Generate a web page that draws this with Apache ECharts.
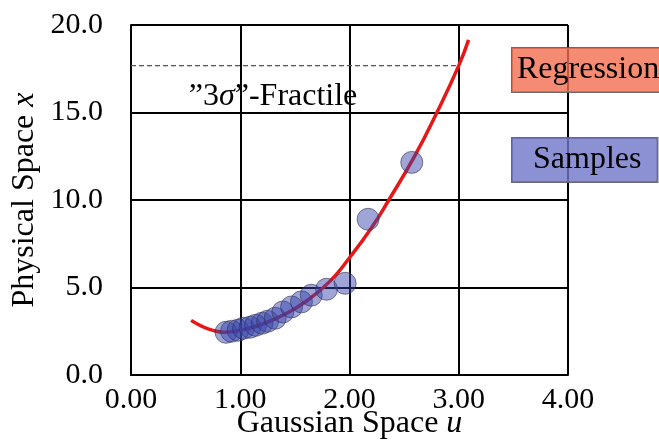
<!DOCTYPE html>
<html>
<head>
<meta charset="UTF-8">
<title>Regression in Gaussian space</title>
<script src="https://cdn.jsdelivr.net/npm/echarts@6/dist/echarts.min.js"></script>
<style>
	html, body { margin: 0; padding: 0; background: #fff; }
</style>
</head>
<body>
	<div id='chartContainer' style='width: 659px; height: 440px;'></div>
	<script>
	// samples (u, x)
	var sampleU = [0.87, 0.92, 0.98, 1.03, 1.09, 1.14, 1.20, 1.25, 1.32, 1.39, 1.47, 1.56, 1.65, 1.79, 1.96, 2.17, 2.57];
	var sampleX = [2.44, 2.50, 2.56, 2.67, 2.73, 2.84, 2.96, 3.07, 3.24, 3.60, 3.89, 4.18, 4.56, 4.90, 5.24, 8.90, 12.15];
	// regression curve
	var curveU = [0.55, 0.65, 0.75, 0.85, 1.00, 1.20, 1.40, 1.60, 1.82, 2.00, 2.20, 2.36, 2.60, 2.80, 3.00, 3.09];
	var curveX = [3.12, 2.78, 2.55, 2.45, 2.55, 2.90, 3.45, 4.20, 5.35, 6.70, 8.40, 10.00, 12.55, 15.00, 17.68, 19.15];
	// "3 sigma" fractile level
	var fractileU = [0, 3.0];
	var fractileX = 17.68;
	var xTicks = [0, 1, 2, 3, 4];
	var yTicks = [0, 5, 10, 15, 20];

	var font = "'Liberation Serif', 'DejaVu Serif', serif";

	function pairs(a, b){
		var out = [];
		for (var i=0; i<a.length; i++){
			out.push([a[i], b[i]]);
		}
		return out;
	}

	var chart = echarts.init(document.getElementById('chartContainer'));

	var option = {
		animation: false,
		grid: {
			left: 131,
			right: 91,
			top: 25,
			bottom: 65,
			containLabel: false,
			outerBoundsMode: 'none'
		},
		legend: {
			orient: 'vertical',
			left: 501,
			top: 42,
			itemGap: 44,
			itemWidth: 1,
			itemHeight: 1,
			icon: 'none',
			selectedMode: false,
			data: [
				{
					name: 'Regression',
					textStyle: {
						fontFamily: font, fontSize: 32, color: '#000', lineHeight: 36,
						backgroundColor: 'rgba(242,110,80,0.8)',
						borderColor: 'rgba(90,90,90,0.9)', borderWidth: 1,
						padding: [4, 8, 4, 5]
					}
				},
				{
					name: 'Samples',
					textStyle: {
						fontFamily: font, fontSize: 32, color: '#000', lineHeight: 36,
						backgroundColor: 'rgba(110,118,200,0.8)',
						borderColor: 'rgba(90,90,90,0.9)', borderWidth: 1,
						padding: [4, 16, 4, 21]
					}
				}
			]
		},
		xAxis: {
			type: 'value',
			min: xTicks[0],
			max: xTicks[xTicks.length-1],
			interval: 1,
			name: 'Gaussian Space {i|u}',
			nameLocation: 'middle',
			nameGap: 33,
			nameMoveOverlap: false,
			nameTextStyle: {
				fontFamily: font, fontSize: 32, color: '#000',
				rich: { i: { fontFamily: font, fontSize: 32, fontStyle: 'italic' } }
			},
			axisLine: { lineStyle: { color: '#000', width: 2 } },
			axisTick: { show: false },
			axisLabel: {
				margin: 10,
				fontFamily: font, fontSize: 30, color: '#000',
				formatter: function(v){ return v.toFixed(2); }
			},
			splitLine: { show: true, lineStyle: { color: '#000', width: 2 } }
		},
		yAxis: {
			type: 'value',
			min: yTicks[0],
			max: yTicks[yTicks.length-1],
			interval: 5,
			name: 'Physical Space {i|x}',
			nameLocation: 'middle',
			nameGap: 90,
			nameMoveOverlap: false,
			nameTextStyle: {
				fontFamily: font, fontSize: 32, color: '#000',
				rich: { i: { fontFamily: font, fontSize: 32, fontStyle: 'italic' } }
			},
			axisLine: { show: true, lineStyle: { color: '#000', width: 2 } },
			axisTick: { show: false },
			axisLabel: {
				margin: 28,
				fontFamily: font, fontSize: 30, color: '#000',
				formatter: function(v){ return v.toFixed(1); }
			},
			splitLine: { show: true, lineStyle: { color: '#000', width: 2 } }
		},
		series: [
			{
				name: 'Fractile',
				type: 'line',
				data: [[fractileU[0], fractileX], [fractileU[1], fractileX]],
				symbol: 'none',
				silent: true,
				z: 3,
				lineStyle: { color: '#555', width: 1.2, type: [5, 3] },
				markPoint: {
					symbol: 'circle',
					symbolSize: 0,
					data: [{ coord: [1.30, 15.9] }],
					label: {
						show: true,
						position: 'inside',
						formatter: '\u201d3{i|\u03c3}\u201d-Fractile',
						fontFamily: font, fontSize: 32, color: '#000',
						rich: { i: { fontFamily: font, fontSize: 32, fontStyle: 'italic' } }
					}
				}
			},
			{
				name: 'Regression',
				type: 'line',
				data: pairs(curveU, curveX),
				smooth: true,
				symbol: 'none',
				z: 4,
				lineStyle: { color: 'rgb(232,22,22)', width: 3.5 }
			},
			{
				name: 'Samples',
				type: 'scatter',
				data: pairs(sampleU, sampleX),
				symbolSize: 22,
				z: 5,
				itemStyle: {
					color: 'rgba(55,67,172,0.6)',
					borderColor: 'rgba(50,50,80,0.75)',
					borderWidth: 1
				}
			}
		]
	};

	chart.setOption(option);
	</script>
</body>
</html>
